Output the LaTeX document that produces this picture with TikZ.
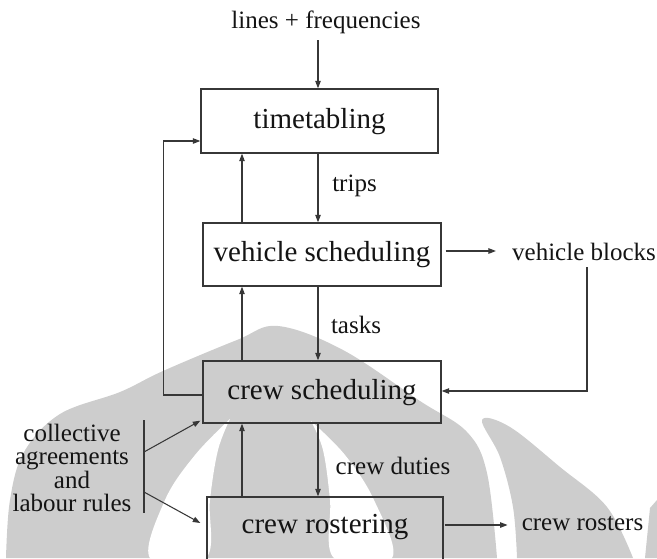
\documentclass[tikz,border=0pt]{standalone}
\usepackage{fontspec}
\setmainfont{Liberation Serif}
\usetikzlibrary{arrows.meta,calc}
\definecolor{wm}{RGB}{205,205,205}
\definecolor{ln}{RGB}{55,55,55}
\definecolor{tx}{RGB}{20,20,20}
\begin{document}
\begin{tikzpicture}[x=1pt,y=-1pt,
  box/.style={draw=ln,line width=1.35pt,rectangle,inner sep=0pt,text=tx,
    font=\fontsize{29}{30}\selectfont,text height=20pt,text depth=6pt},
  lbl/.style={inner sep=3pt,text=tx,font=\fontsize{25}{26}\selectfont},
  arr/.style={draw=ln,line width=1.05pt,-{Triangle[length=7.5pt,width=5.5pt]}},
  ln0/.style={draw=ln,line width=1.2pt}]
\useasboundingbox (0,0) rectangle (657,558);
\clip (0,0) rectangle (657,558);
% watermark
\fill[wm] plot[smooth,tension=0.6] coordinates {(6,558) (10,500) (24,452) (60,414) (120,392) (163,371) (237,340) (278,326) (343,350) (420,401) (467,432) (487,473) (497,558)} -- cycle;
\fill[white] plot[smooth,tension=0.6] coordinates {(230,419) (218,450) (210,500) (206,558) (150,558) (165,500) (195,455) (230,419)};
\fill[white] plot[smooth,tension=0.6] coordinates {(311,421) (323,450) (330,500) (334,558) (392,558) (374,500) (345,455) (311,421)};
\fill[wm] plot[smooth,tension=0.6] coordinates {(517,558) (513,507) (500,457) (482,420) (510,427) (560,467) (607,507) (633,558)} -- cycle;
\fill[wm] (650,508) -- (657,500) -- (657,558) -- (645,558) -- cycle;
% boxes
\node[box,minimum width=237pt,minimum height=64pt] (tt) at (319.5,121) {timetabling};
\node[box,minimum width=238pt,minimum height=63pt] (vs) at (322,254.5) {vehicle scheduling};
\node[box,minimum width=238pt,minimum height=62pt] (cs) at (322,392) {crew scheduling};
\node[box,minimum width=236pt,minimum height=64pt] (cr) at (325,529) {\raisebox{3pt}{crew rostering}};
% labels
\node[lbl] (lf) at (326,22) {lines + frequencies};
\node[lbl] (trips) at (354.5,186) {trips};
\node[lbl] (tasks) at (356,325) {tasks};
\node[lbl] (duties) at (393,466) {crew duties};
\node[lbl] (vb) at (584,252) {vehicle blocks};
\node[lbl] (ros) at (582.5,524) {crew rosters};
\node[lbl,align=center,font=\fontsize{25}{22.7}\selectfont] (rules) at (72,468) {collective\\agreements\\and\\labour rules};
% helper coordinates
\coordinate (upx) at (242,0);
\coordinate (dnx) at (318,0);
\coordinate (lfb) at (318,40);
\coordinate (vbs) at (587,267);
\coordinate (bt) at (144,420);
\coordinate (bb) at (144,513);
\coordinate (b1) at (144,452);
\coordinate (b2) at (144,492);
\coordinate (vy) at (0,251);
\coordinate (ry) at (0,525);
\coordinate (cy) at (0,391);
\coordinate (ty) at (0,141);
% connectors
\draw[arr] (lfb) -- (lfb |- tt.north);
\draw[arr] (tt.south -| dnx) -- (vs.north -| dnx);
\draw[arr] (vs.north -| upx) -- (tt.south -| upx);
\draw[arr] (vs.south -| dnx) -- (cs.north -| dnx);
\draw[arr] (cs.north -| upx) -- (vs.south -| upx);
\draw[arr] (cs.south -| dnx) -- (cr.north -| dnx);
\draw[arr] (cr.north -| upx) -- (cs.south -| upx);
\draw[arr] ([xshift=4pt]vs.east |- vy) -- ([xshift=-13pt]vb.west |- vy);
\draw[arr] (vbs) |- (cs.east |- cy);
\draw[arr] ([yshift=-3pt]cs.west) -- ++(-39,0) |- (tt.west |- ty);
\draw[arr] ([xshift=1pt]cr.east |- ry) -- ([xshift=-11pt]ros.west |- ry);
\draw[ln0] (bt) -- (bb);
\draw[arr] (b1) -- ([xshift=-2pt,yshift=3pt]cs.south west);
\draw[arr] (b2) -- ([xshift=-6pt,yshift=6pt]cr.west);
\end{tikzpicture}
\end{document}
